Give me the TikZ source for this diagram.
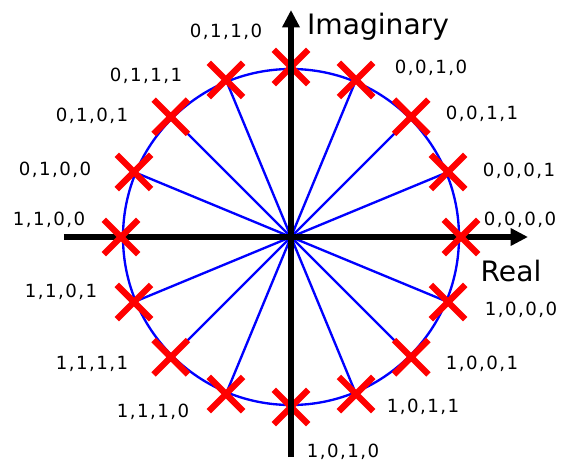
\documentclass[tikz,border=0pt]{standalone}
\usepackage{fontspec}
\setmainfont{DejaVu Sans}
\newfontfamily\bitfont[LetterSpace=8]{DejaVu Sans}
\usetikzlibrary{arrows.meta,shapes.misc}
\def\bitstr#1#2#3#4{#1,#2,#3,#4}
\begin{document}
\begin{tikzpicture}[x=0.03cm, y=0.03cm, >={Triangle[length=0.52cm,width=0.5cm]},
  symb/.style={cross out, draw=red, line width=5.4pt, minimum size=0.84cm, inner sep=0pt},
  bits/.style={font=\bitfont\fontsize{15.5}{18}\selectfont},
  eixo/.style={font=\fontsize{24}{28}\selectfont}]
\useasboundingbox (-291,-230) rectangle (270,237);
% circulo e raios
\coordinate (o) at (0,0);
\draw[blue, line width=2pt] (o) circle (168);
\foreach \k in {0,...,15}
  \node[inner sep=0pt] (p\k) at (22.5*\k:170) {};
\foreach \k in {1,2,3,5,6,7,9,10,11,13,14,15}
  \draw[blue, line width=2pt] (o) -- (p\k.center);
% eixo real
\coordinate (re0) at (-227,0);
\coordinate (re1) at (237,0);
\draw[->, line width=4.4pt] (re0) -- (re1);
% simbolos
\foreach \k in {0,...,15}
  \node[symb] (s\k) at (p\k) {};
% eixo imaginario
\coordinate (im0) at (0,-220);
\coordinate (im1) at (0,227);
\draw[->, line width=4.4pt] (im0) -- (im1);
\node[eixo] (lim) at (87,210) {Imaginary};
\node[eixo] (lre) at (220,-34) {Real};
% rotulos
\foreach \k/\b/\x/\y in {0/0000/229/17, 1/0001/228/66, 2/0011/191/123, 3/0010/140/169,
    4/0110/-65/205, 5/0111/-145/161, 6/0101/-199/121, 7/0100/-236/67,
    8/1100/-242/17, 9/1101/-230/-55, 10/1111/-199/-127, 11/1110/-138/-175,
    12/1010/52/-215, 13/1011/132/-170, 14/1001/191/-127, 15/1000/230/-73}
  \node[bits] (b\k) at (\x,\y) {\expandafter\bitstr\b};
\end{tikzpicture}
\end{document}
